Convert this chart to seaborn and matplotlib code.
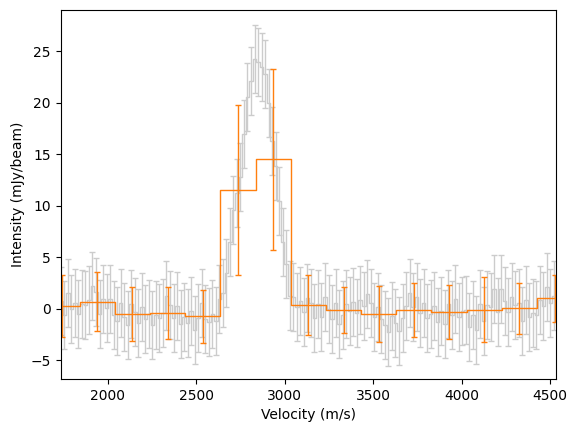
import numpy as np
import pandas as pd
import matplotlib
matplotlib.use("Agg")
import matplotlib.pyplot as plt
import seaborn as sns

# Fine spectral channels (velocity grid start/step) and intensities (mJy/beam)
chan_start = 1735.0
chan_step = 19.9
fine_flux = [
    0.8, -0.6, 1.5, 0.0, 0.6, -0.5, 0.5, 0.4, 0.9, 2.2,
    1.6, -0.5, 1.0, 0.1, 1.0, -0.6, -1.2, 0.6, -0.8, -1.6,
    0.5, -0.3, -1.4, 0.2, -1.0, -0.5, -1.6, -0.6, -0.9, -0.4,
    1.3, 0.4, -0.9, 0.3, -1.5, -0.8, -1.4, -0.2, -2.0, -0.9,
    0.6, -1.0, -1.3, -0.5, -1.2, 1.0, 1.5, 3.5, 6.5, 9.6,
    11.2, 12.8, 17.0, 20.6, 22.1, 24.2, 24.0, 23.5, 22.8, 20.0,
    16.3, 13.9, 10.5, 6.5, 4.4, 1.3, 1.2, 0.2, 0.8, -0.3,
    1.1, 0.6, -0.9, 0.5, -0.8, 1.2, 0.0, -1.0, 0.6, -1.5,
    -0.6, 0.5, -0.2, 0.7, -0.4, 0.9, 0.3, 1.4, 0.6, -0.8,
    0.2, -1.0, -1.6, -2.2, -0.7, -1.4, -2.1, -0.9, 0.3, 1.5,
    0.2, 1.2, -0.4, 0.6, -0.9, -0.5, 0.3, -1.3, -0.2, -1.5,
    0.5, -0.6, 1.0, -0.8, -0.2, -0.1, -1.8, -0.6, -2.0, 0.5,
    -1.2, 0.4, 0.2, 1.9, -0.3, 1.9, 0.8, -0.3, 1.2, 0.4,
    0.6, -1.2, 0.9, -0.8, -0.4, -0.6, 0.9, 0.3, 2.1, 0.6,
    1.3,
]
fine_err = 3.3

# Binned spectrum
bin_velocity = [1742, 1941, 2139, 2338, 2537, 2736, 2934, 3133,
                3332, 3530, 3729, 3928, 4126, 4325, 4524]
bin_flux = [0.3, 0.7, -0.5, -0.42, -0.71, 11.5, 14.5, 0.36,
            -0.1, -0.52, -0.1, -0.29, -0.1, 0.06, 1.03]
bin_err = [3.0, 2.85, 2.65, 2.5, 2.55, 8.25, 8.75, 2.9,
           2.2, 2.7, 2.6, 2.65, 3.15, 2.5, 2.3]

fine_velocity = chan_start + chan_step * np.arange(len(fine_flux))
fine_df = pd.DataFrame({"v": fine_velocity, "f": fine_flux})
bin_df = pd.DataFrame({"v": bin_velocity, "f": bin_flux})

fig = plt.figure(figsize=(5.77, 4.32), dpi=100)
ax = fig.add_axes([0.1052, 0.1227, 0.9641 - 0.1052, 0.9769 - 0.1227])

grey = "#cccccc"
orange = "#ff7f0e"

sns.lineplot(data=fine_df, x="v", y="f", ax=ax, color=grey,
             drawstyle="steps-mid", linewidth=1, estimator=None)
ax.errorbar(fine_df["v"], fine_df["f"], yerr=fine_err, fmt="none",
            ecolor=grey, elinewidth=1, capsize=2)

sns.lineplot(data=bin_df, x="v", y="f", ax=ax, color=orange,
             drawstyle="steps-mid", linewidth=1, estimator=None)
ax.errorbar(bin_df["v"], bin_df["f"], yerr=bin_err, fmt="none",
            ecolor=orange, elinewidth=1, capsize=2)

ax.set_xlim(1734.5, 4534)
ax.set_ylim(-6.8, 29.0)
ax.set_xticks([2000, 2500, 3000, 3500, 4000, 4500])
ax.set_yticks([-5, 0, 5, 10, 15, 20, 25])
ax.set_xlabel("Velocity (m/s)")
ax.set_ylabel("Intensity (mJy/beam)")

fig.savefig("out.png", dpi=100)
